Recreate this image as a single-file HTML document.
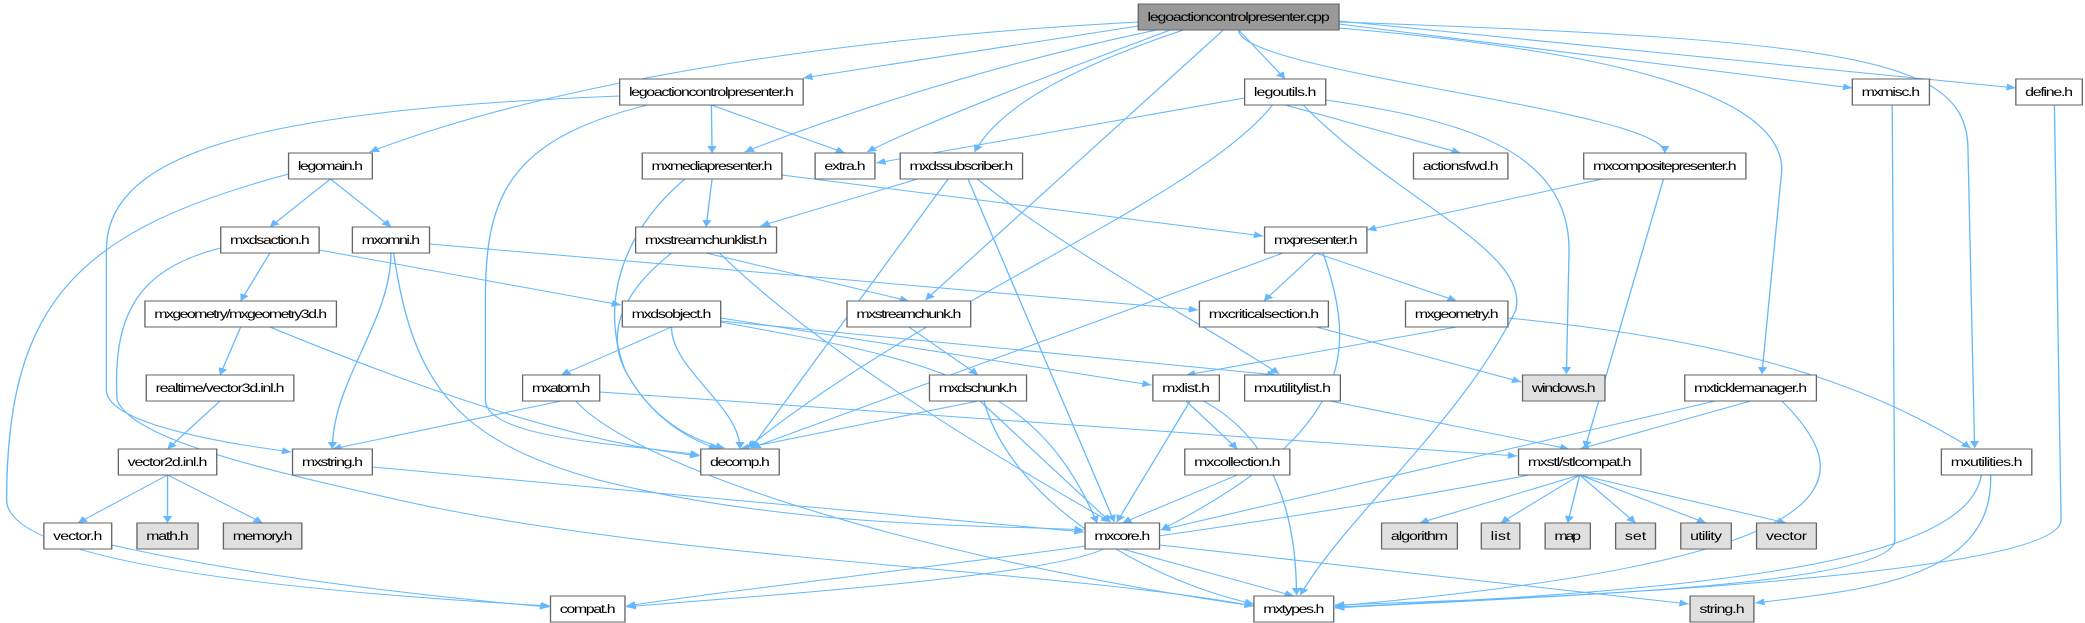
<!DOCTYPE html>
<html><head><meta charset="utf-8"><style>
html,body{margin:0;padding:0;background:#fff;}
svg{display:block}
text{font-family:"Liberation Sans",sans-serif;font-size:12px;fill:#000;text-anchor:middle}
rect{stroke:#666;stroke-width:1}
</style></head><body>
<svg id="g" width="2085" height="623" viewBox="0 0 1568 623" preserveAspectRatio="none" xmlns="http://www.w3.org/2000/svg">
<defs><marker id="a" viewBox="0 0 10 10" refX="10" refY="5" markerWidth="7" markerHeight="7" orient="auto" markerUnits="userSpaceOnUse"><path d="M0,0L10,5L0,10z" fill="#63b8ff"/></marker></defs>
<g id="edges" fill="none" stroke="#63b8ff" stroke-width="1"></g>
<g id="nodes">
<rect x="856" y="4" width="151" height="26" fill="#999"/><text x="931.5" y="21" textLength="137">legoactioncontrolpresenter.cpp</text>
<rect x="466" y="79" width="138" height="26" fill="#fff"/><text x="535" y="96" textLength="124">legoactioncontrolpresenter.h</text>
<rect x="936" y="79" width="61" height="26" fill="#fff"/><text x="966.5" y="96" textLength="47">legoutils.h</text>
<rect x="1393" y="79" width="58" height="26" fill="#fff"/><text x="1422" y="96" textLength="44">mxmisc.h</text>
<rect x="1516" y="79" width="50" height="26" fill="#fff"/><text x="1541" y="96" textLength="36">define.h</text>
<rect x="217" y="153" width="63" height="26" fill="#fff"/><text x="248.5" y="170" textLength="49">legomain.h</text>
<rect x="483" y="153" width="105" height="26" fill="#fff"/><text x="535.5" y="170" textLength="91">mxmediapresenter.h</text>
<rect x="613" y="153" width="45" height="26" fill="#fff"/><text x="635.5" y="170" textLength="31">extra.h</text>
<rect x="677" y="153" width="92" height="26" fill="#fff"/><text x="723" y="170" textLength="78">mxdssubscriber.h</text>
<rect x="1063" y="153" width="71" height="26" fill="#fff"/><text x="1098.5" y="170" textLength="57">actionsfwd.h</text>
<rect x="1191" y="153" width="122" height="26" fill="#fff"/><text x="1252" y="170" textLength="108">mxcompositepresenter.h</text>
<rect x="166" y="227" width="74" height="26" fill="#fff"/><text x="203" y="244" textLength="60">mxdsaction.h</text>
<rect x="265" y="227" width="58" height="26" fill="#fff"/><text x="294" y="244" textLength="44">mxomni.h</text>
<rect x="478" y="227" width="106" height="26" fill="#fff"/><text x="531" y="244" textLength="92">mxstreamchunklist.h</text>
<rect x="951" y="227" width="77" height="26" fill="#fff"/><text x="989.5" y="244" textLength="63">mxpresenter.h</text>
<rect x="109" y="301" width="144" height="26" fill="#fff"/><text x="181" y="318" textLength="130">mxgeometry/mxgeometry3d.h</text>
<rect x="468" y="301" width="74" height="26" fill="#fff"/><text x="505" y="318" textLength="60">mxdsobject.h</text>
<rect x="637" y="301" width="93" height="26" fill="#fff"/><text x="683.5" y="318" textLength="79">mxstreamchunk.h</text>
<rect x="902" y="301" width="97" height="26" fill="#fff"/><text x="950.5" y="318" textLength="83">mxcriticalsection.h</text>
<rect x="1057" y="301" width="77" height="26" fill="#fff"/><text x="1095.5" y="318" textLength="63">mxgeometry.h</text>
<rect x="110" y="375" width="111" height="26" fill="#fff"/><text x="165.5" y="392" textLength="97">realtime/vector3d.inl.h</text>
<rect x="393" y="375" width="58" height="26" fill="#fff"/><text x="422" y="392" textLength="44">mxatom.h</text>
<rect x="699" y="375" width="73" height="26" fill="#fff"/><text x="735.5" y="392" textLength="59">mxdschunk.h</text>
<rect x="867" y="375" width="50" height="26" fill="#fff"/><text x="892" y="392" textLength="36">mxlist.h</text>
<rect x="936" y="375" width="72" height="26" fill="#fff"/><text x="972" y="392" textLength="58">mxutilitylist.h</text>
<rect x="1145" y="375" width="62" height="26" fill="#e0e0e0"/><text x="1176" y="392" textLength="48">windows.h</text>
<rect x="1267" y="375" width="99" height="26" fill="#fff"/><text x="1316.5" y="392" textLength="85">mxticklemanager.h</text>
<rect x="89" y="449" width="74" height="26" fill="#fff"/><text x="126" y="466" textLength="60">vector2d.inl.h</text>
<rect x="220" y="449" width="60" height="26" fill="#fff"/><text x="250" y="466" textLength="46">mxstring.h</text>
<rect x="527" y="449" width="59" height="26" fill="#fff"/><text x="556.5" y="466" textLength="45">decomp.h</text>
<rect x="891" y="449" width="79" height="26" fill="#fff"/><text x="930.5" y="466" textLength="65">mxcollection.h</text>
<rect x="1142" y="449" width="92" height="26" fill="#fff"/><text x="1188" y="466" textLength="78">mxstl/stlcompat.h</text>
<rect x="1460" y="449" width="68" height="26" fill="#fff"/><text x="1494" y="466" textLength="54">mxutilities.h</text>
<rect x="33" y="523" width="51" height="26" fill="#fff"/><text x="58.5" y="540" textLength="37">vector.h</text>
<rect x="103" y="523" width="46" height="26" fill="#e0e0e0"/><text x="126" y="540" textLength="32">math.h</text>
<rect x="168" y="523" width="59" height="26" fill="#e0e0e0"/><text x="197.5" y="540" textLength="45">memory.h</text>
<rect x="816" y="523" width="56" height="26" fill="#fff"/><text x="844" y="540" textLength="42">mxcore.h</text>
<rect x="1039" y="523" width="57" height="26" fill="#e0e0e0"/><text x="1067.5" y="540" textLength="43">algorithm</text>
<rect x="1114" y="523" width="29" height="26" fill="#e0e0e0"/><text x="1128.5" y="540" textLength="15">list</text>
<rect x="1162" y="523" width="34" height="26" fill="#e0e0e0"/><text x="1179" y="540" textLength="20">map</text>
<rect x="1215" y="523" width="30" height="26" fill="#e0e0e0"/><text x="1230" y="540" textLength="16">set</text>
<rect x="1264" y="523" width="38" height="26" fill="#e0e0e0"/><text x="1283" y="540" textLength="24">utility</text>
<rect x="1321" y="523" width="45" height="26" fill="#e0e0e0"/><text x="1343.5" y="540" textLength="31">vector</text>
<rect x="414" y="596" width="56" height="26" fill="#fff"/><text x="442" y="613" textLength="42">compat.h</text>
<rect x="943" y="596" width="60" height="26" fill="#fff"/><text x="973" y="613" textLength="46">mxtypes.h</text>
<rect x="1271" y="596" width="48" height="26" fill="#e0e0e0"/><text x="1295" y="613" textLength="34">string.h</text>
</g>
</svg>
<script>
var N={};
document.querySelectorAll('#nodes rect').forEach(function(r){
 var t=r.nextElementSibling.textContent;
 N[t]={x:+r.getAttribute('x'),y:+r.getAttribute('y'),w:+r.getAttribute('width'),h:26};
});
var O={
"legoactioncontrolpresenter.cpp|legomain.h":"M856,22C600,40 400,90 278,152",
"legoactioncontrolpresenter.cpp|legoactioncontrolpresenter.h":"M856,26L604,78",
"legoactioncontrolpresenter.cpp|mxmediapresenter.h":"M870,30C760,60 640,110 560,152",
"legoactioncontrolpresenter.cpp|extra.h":"M880,30C800,70 700,120 652,152",
"legoactioncontrolpresenter.cpp|mxdssubscriber.h":"M890,30C800,70 750,110 733,152",
"legoactioncontrolpresenter.cpp|mxstreamchunk.h":"M920,30L696,300",
"legoactioncontrolpresenter.cpp|mxmisc.h":"M1007,24L1393,88",
"legoactioncontrolpresenter.cpp|define.h":"M1007,21L1516,88",
"legoactioncontrolpresenter.cpp|mxticklemanager.h":"M1007,28C1200,50 1340,90 1340,170L1325,374",
"legoactioncontrolpresenter.cpp|mxutilities.h":"M1007,22C1400,40 1480,60 1480,150L1485,448",
"legomain.h|compat.h":"M217,174C60,230 5,300 5,500C5,560 200,590 414,606",
"legoactioncontrolpresenter.h|mxstring.h":"M466,96C200,110 80,150 80,250L80,390C80,420 150,440 219,452",
"legoactioncontrolpresenter.h|decomp.h":"M487,105C380,140 365,200 365,300L365,400C365,440 480,445 526,455",
"mxdsaction.h|mxtypes.h":"M166,248C100,270 85,320 88,400C100,440 200,470 300,500C500,560 800,570 943,606",
"mxomni.h|mxcore.h":"M296,253C310,380 340,440 450,480C600,530 760,525 815,530",
"mxstring.h|mxcore.h":"M280,467L815,532",
"mxgeometry/mxgeometry3d.h|decomp.h":"M203,327C300,380 420,440 526,456",
"mxatom.h|mxstl/stlcompat.h":"M451,392L1141,456",
"mxatom.h|mxtypes.h":"M433,401C480,470 700,560 943,606",
"mxomni.h|mxcriticalsection.h":"M323,244L901,310",
"mxdsaction.h|mxdsobject.h":"M240,250L467,305",
"mxmediapresenter.h|mxpresenter.h":"M588,175L950,236",
"mxmediapresenter.h|decomp.h":"M515,179C470,230 450,300 470,370C490,420 520,440 540,449",
"mxdssubscriber.h|decomp.h":"M713,179L565,448",
"mxdssubscriber.h|mxcore.h":"M728,179L838,522",
"mxdssubscriber.h|mxutilitylist.h":"M735,179C800,250 900,320 962,374",
"mxdssubscriber.h|mxstreamchunklist.h":"M690,179L572,226",
"mxstreamchunklist.h|decomp.h":"M505,253C470,290 455,330 470,370C490,420 520,440 545,448",
"mxstreamchunklist.h|mxcore.h":"M541,253C600,330 700,420 835,522",
"mxdsobject.h|mxlist.h":"M542,318L866,385",
"mxdsobject.h|mxutilitylist.h":"M542,321L960,375",
"mxdsobject.h|mxcore.h":"M542,322C700,360 780,380 825,523",
"mxdschunk.h|mxtypes.h":"M740,401C760,500 860,580 943,604",
"mxdschunk.h|mxcore.h":"M737,401L835,522",
"mxlist.h|mxtypes.h":"M905,401C960,440 975,520 975,595",
"mxlist.h|mxcore.h":"M895,401L840,522",
"mxutilitylist.h|mxstl/stlcompat.h":"M1000,401L1180,449",
"mxticklemanager.h|mxcore.h":"M1290,401L873,530",
"mxticklemanager.h|mxtypes.h":"M1340,401C1400,480 1400,560 1004,606",
"mxcompositepresenter.h|mxstl/stlcompat.h":"M1251,179L1192,448",
"mxcompositepresenter.h|mxpresenter.h":"M1205,179L1028,230",
"legoutils.h|windows.h":"M997,100C1100,120 1180,150 1180,250L1178,374",
"legoutils.h|mxtypes.h":"M980,105C1050,200 1150,250 1140,310C1100,420 1010,520 978,595",
"legoutils.h|decomp.h":"M957,105C900,200 700,300 562,448",
"legoutils.h|extra.h":"M936,98L659,163",
"mxpresenter.h|decomp.h":"M965,253L565,448",
"mxpresenter.h|mxcore.h":"M995,253C1020,350 1020,430 873,530",
"mxgeometry.h|mxutilities.h":"M1134,318C1300,340 1400,380 1482,448",
"mxcriticalsection.h|windows.h":"M990,327L1144,382",
"mxutilities.h|mxtypes.h":"M1490,475C1480,560 1300,590 1004,607",
"define.h|mxtypes.h":"M1545,105L1550,520C1550,580 1100,600 1004,608",
"mxmisc.h|mxtypes.h":"M1423,105L1425,540C1425,590 1100,600 1004,605",
"mxutilities.h|string.h":"M1497,475C1500,580 1400,590 1320,603",
"mxcore.h|string.h":"M872,545L1270,604",
"mxstl/stlcompat.h|compat.h":"M1150,475C900,540 600,580 471,606",
"mxcore.h|compat.h":"M830,549C780,580 520,600 471,607",
"vector.h|compat.h":"M84,545C200,580 350,600 413,607"
};
var E=[
["legoactioncontrolpresenter.cpp",["legoactioncontrolpresenter.h","legomain.h","mxmediapresenter.h","extra.h","mxdssubscriber.h","mxstreamchunk.h","legoutils.h","mxcompositepresenter.h","mxticklemanager.h","mxmisc.h","define.h","mxutilities.h"]],
["legoactioncontrolpresenter.h",["mxmediapresenter.h","extra.h","decomp.h","mxstring.h"]],
["legomain.h",["mxdsaction.h","mxomni.h","compat.h"]],
["legoutils.h",["extra.h","actionsfwd.h","windows.h","decomp.h","mxtypes.h"]],
["mxmediapresenter.h",["mxstreamchunklist.h","mxpresenter.h","decomp.h"]],
["mxdssubscriber.h",["mxstreamchunklist.h","decomp.h","mxcore.h","mxutilitylist.h"]],
["mxcompositepresenter.h",["mxpresenter.h","mxstl/stlcompat.h"]],
["mxdsaction.h",["mxdsobject.h","mxgeometry/mxgeometry3d.h","mxtypes.h"]],
["mxomni.h",["mxcriticalsection.h","mxstring.h","mxcore.h"]],
["mxstreamchunklist.h",["mxstreamchunk.h","decomp.h","mxcore.h"]],
["mxpresenter.h",["decomp.h","mxcriticalsection.h","mxgeometry.h","mxcore.h"]],
["mxgeometry/mxgeometry3d.h",["realtime/vector3d.inl.h","decomp.h"]],
["mxdsobject.h",["mxatom.h","decomp.h","mxlist.h","mxutilitylist.h","mxcore.h"]],
["mxstreamchunk.h",["mxdschunk.h"]],
["mxcriticalsection.h",["windows.h"]],
["mxgeometry.h",["mxlist.h","mxutilities.h"]],
["realtime/vector3d.inl.h",["vector2d.inl.h"]],
["mxatom.h",["mxstring.h","mxstl/stlcompat.h","mxtypes.h"]],
["mxdschunk.h",["decomp.h","mxcore.h","mxtypes.h"]],
["mxlist.h",["mxcollection.h","mxcore.h","mxtypes.h"]],
["mxutilitylist.h",["mxstl/stlcompat.h"]],
["mxticklemanager.h",["mxcore.h","mxstl/stlcompat.h","mxtypes.h"]],
["vector2d.inl.h",["vector.h","math.h","memory.h"]],
["mxstring.h",["mxcore.h"]],
["mxcollection.h",["mxcore.h"]],
["mxstl/stlcompat.h",["algorithm","list","map","set","utility","vector","compat.h"]],
["mxutilities.h",["mxtypes.h","string.h"]],
["mxcore.h",["compat.h","mxtypes.h","string.h"]],
["vector.h",["compat.h"]],
["mxmisc.h",["mxtypes.h"]],
["define.h",["mxtypes.h"]]
];
var g=document.getElementById('edges'),s='';
E.forEach(function(e){var a=N[e[0]];e[1].forEach(function(t){var b=N[t];if(!a||!b)return;
 var k=e[0]+'|'+t;
 if(O[k]){s+='<path marker-end="url(#a)" d="'+O[k]+'"/>';return;}
 var x1=a.x+a.w/2,y1=a.y+a.h,x2=b.x+b.w/2,y2=b.y;
 if(b.y-a.y>80){var dy=(y2-y1)*0.35;s+='<path marker-end="url(#a)" d="M'+x1+','+y1+'C'+x1+','+(y1+dy)+' '+x2+','+(y2-dy)+' '+x2+','+y2+'"/>';}
 else s+='<path marker-end="url(#a)" d="M'+x1+','+y1+'L'+x2+','+y2+'"/>';
});});
g.innerHTML=s;
</script>
</body></html>
